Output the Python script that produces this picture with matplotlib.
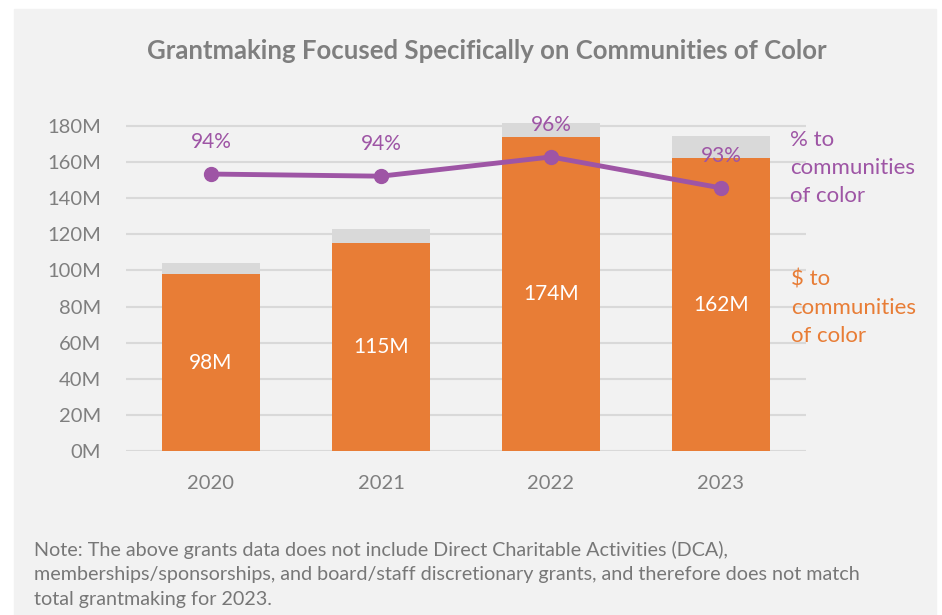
import matplotlib.pyplot as plt
from matplotlib.patches import Rectangle

years = ["2020", "2021", "2022", "2023"]
to_color = [98, 115, 174, 162]          # $M to communities of color
total = [104, 123, 181.5, 174.5]        # $M total grantmaking
pct_line = [94.4, 94.2, 96.0, 93.1]     # share to communities of color (%)
pct_labels = ["94%", "94%", "96%", "93%"]

orange = "#E87D36"
purple = "#9E55A5"
grey_bar = "#D9D9D9"
text_grey = "#7F7F7F"

plt.rcParams["font.family"] = ["Lato", "DejaVu Sans"]

fig = plt.figure(figsize=(9.42, 6.15), dpi=100)
fig.patch.set_facecolor("white")
fig.patches.append(Rectangle((14 / 942, 0), 922 / 942, 1 - 9 / 615,
                             transform=fig.transFigure, color="#F2F2F2", zorder=-10))

ax = fig.add_axes([126 / 942, 1 - 451 / 615, 680 / 942, 185 * 1.806 / 615])
ax.set_facecolor("none")

x = range(len(years))
rest = [t - c for t, c in zip(total, to_color)]
bars = ax.bar(x, to_color, width=0.576, color=orange, zorder=2)
ax.bar(x, rest, bottom=to_color, width=0.576, color=grey_bar, zorder=2)
ax.bar_label(bars, labels=[f"{v}M" for v in to_color], label_type="center",
             color="white", fontsize=15)

ax.set_xlim(-0.5, 3.5)
ax.set_ylim(0, 185)
ax.set_yticks(range(0, 181, 20))
ax.set_yticklabels([f"{v}M" for v in range(0, 181, 20)])
ax.set_xticks(list(x))
ax.set_xticklabels(years)
ax.tick_params(axis="both", length=0, labelsize=14.5, colors=text_grey)
ax.tick_params(axis="y", pad=18)
ax.tick_params(axis="x", pad=17)
for s in ax.spines.values():
    s.set_visible(False)
ax.yaxis.grid(True, color="#D9D9D9", linewidth=1.5, zorder=0)
ax.set_axisbelow(True)

# percentage line on a hidden secondary scale
ax2 = ax.twinx()
ax2.set_ylim(68.5, 68.5 + 185 * 30.4 / 180)
ax2.plot(list(x), pct_line, color=purple, linewidth=3.5, marker="o",
         markersize=10, zorder=5)
for i, (p, lab) in enumerate(zip(pct_line, pct_labels)):
    ax2.annotate(lab, (i, p), xytext=(0, 23), textcoords="offset points",
                 ha="center", va="center", color=purple, fontsize=15)
ax2.axis("off")

fig.text(790 / 942, 1 - 168 / 615, "% to\ncommunities\nof color", color=purple,
         fontsize=16, va="center", ha="left", linespacing=1.53)
fig.text(791 / 942, 1 - 308 / 615, "$ to\ncommunities\nof color", color=orange,
         fontsize=16, va="center", ha="left", linespacing=1.53)

fig.text(487 / 942, 1 - 51 / 615, "Grantmaking Focused Specifically on Communities of Color",
         ha="center", va="center", fontsize=18.5, fontweight="bold", color=text_grey)

fig.text(34 / 942, 1 - 541 / 615,
         "Note: The above grants data does not include Direct Charitable Activities (DCA),\n"
         "memberships/sponsorships, and board/staff discretionary grants, and therefore does not match\n"
         "total grantmaking for 2023.",
         ha="left", va="top", fontsize=14.2, color="#777777", linespacing=1.52)

fig.savefig("out.png", dpi=100)
